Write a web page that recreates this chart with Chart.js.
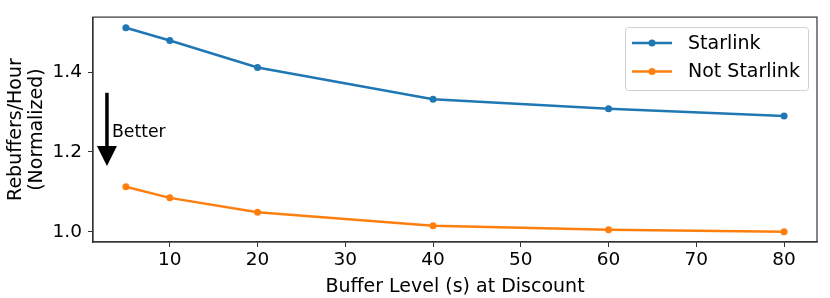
<!DOCTYPE html>
<html>
<head>
<meta charset="utf-8">
<script src="https://cdn.jsdelivr.net/npm/chart.js@4/dist/chart.umd.min.js"></script>
<style>
html,body{margin:0;padding:0;background:#fff;}
#wrap{width:830px;height:298px;}
</style>
</head>
<body>
<div id="wrap"><canvas id="c" width="830" height="298"></canvas></div>
<script>
const bufferLevels = [5, 10, 20, 40, 60, 80];
const starlink = [1.511, 1.479, 1.4115, 1.332, 1.308, 1.290];
const notStarlink = [1.113, 1.085, 1.049, 1.015, 1.005, 1.000];
const xTicks = [10, 20, 30, 40, 50, 60, 70, 80];
const yTicks = [1.0, 1.2, 1.4];
const seriesNames = ['Starlink', 'Not Starlink'];
const xTitle = 'Buffer Level (s) at Discount';
const yTitle = ['Rebuffers/Hour', '(Normalized)'];
const annotationText = 'Better';

const FONT = 'DejaVu Sans';
const colors = ['#1f77b4', '#ff7f0e'];

const framePlugin = {
  id: 'frame',
  afterDraw(chart) {
    const {ctx, chartArea: a, scales} = chart;
    ctx.save();
    ctx.strokeStyle = '#333';
    ctx.lineWidth = 1.2;
    ctx.strokeRect(a.left, a.top, a.right - a.left, a.bottom - a.top);
    // Better arrow
    const x = scales.x.getPixelForValue(2.84);
    const y0 = scales.y.getPixelForValue(1.348);
    const y1 = scales.y.getPixelForValue(1.165);
    ctx.fillStyle = '#000';
    ctx.strokeStyle = '#000';
    ctx.lineWidth = 3.5;
    ctx.beginPath();
    ctx.moveTo(x, y0);
    ctx.lineTo(x, y1 - 18);
    ctx.stroke();
    ctx.beginPath();
    ctx.moveTo(x - 10, y1 - 20);
    ctx.lineTo(x + 10, y1 - 20);
    ctx.lineTo(x, y1);
    ctx.closePath();
    ctx.fill();
    ctx.font = '17.3px "' + FONT + '"';
    ctx.textAlign = 'left';
    ctx.textBaseline = 'alphabetic';
    ctx.fillText(annotationText, x + 5, y0 + 44);
    // Legend
    const lx = 625, ly = 27, lw = 183, lh = 63;
    ctx.fillStyle = 'rgba(255,255,255,0.85)';
    ctx.strokeStyle = '#d0d0d0';
    ctx.lineWidth = 1;
    ctx.beginPath();
    if (ctx.roundRect) ctx.roundRect(lx + 0.5, ly + 0.5, lw, lh, 3); else ctx.rect(lx + 0.5, ly + 0.5, lw, lh);
    ctx.fill();
    ctx.stroke();
    chart.data.datasets.forEach((ds, i) => {
      const yy = 43 + i * 28.5;
      ctx.strokeStyle = ds.borderColor;
      ctx.fillStyle = ds.borderColor;
      ctx.lineWidth = 2.5;
      ctx.beginPath();
      ctx.moveTo(632, yy);
      ctx.lineTo(672, yy);
      ctx.stroke();
      ctx.beginPath();
      ctx.arc(652, yy, 3.5, 0, Math.PI * 2);
      ctx.fill();
      ctx.fillStyle = '#000';
      ctx.font = '19px "' + FONT + '"';
      ctx.textBaseline = 'middle';
      ctx.fillText(ds.label, 688, yy + 1);
    });
    ctx.restore();
  }
};

new Chart(document.getElementById('c'), {
  type: 'line',
  data: {
    datasets: [
      {label: seriesNames[0], data: bufferLevels.map((x, i) => ({x, y: starlink[i]})), borderColor: colors[0], backgroundColor: colors[0]},
      {label: seriesNames[1], data: bufferLevels.map((x, i) => ({x, y: notStarlink[i]})), borderColor: colors[1], backgroundColor: colors[1]}
    ]
  },
  options: {
    responsive: false,
    animation: false,
    devicePixelRatio: 1,
    elements: {
      line: {borderWidth: 2.5, tension: 0},
      point: {radius: 3.5, hoverRadius: 3.5, borderWidth: 0}
    },
    layout: {padding: {left: 0, right: 13, top: 17, bottom: 0}},
    plugins: {legend: {display: false}, tooltip: {enabled: false}},
    scales: {
      x: {
        type: 'linear',
        min: 1.25, max: 83.75,
        afterBuildTicks: s => { s.ticks = xTicks.map(v => ({value: v})); },
        afterFit: s => { s.height = 56; },
        grid: {drawOnChartArea: false, tickLength: 5, color: '#333', tickWidth: 1},
        border: {display: true, color: '#333', width: 1.2},
        ticks: {color: '#000', font: {family: FONT, size: 18.5}, padding: 2, maxRotation: 0},
        title: {display: true, text: xTitle, color: '#000', font: {family: FONT, size: 19}, padding: {top: 0, bottom: 0}}
      },
      y: {
        type: 'linear',
        min: 0.9745, max: 1.5375,
        afterBuildTicks: s => { s.ticks = yTicks.map(v => ({value: v})); },
        afterFit: s => { s.width = 93; },
        grid: {drawOnChartArea: false, tickLength: 5, color: '#333', tickWidth: 1},
        border: {display: true, color: '#333', width: 1.2},
        ticks: {color: '#000', font: {family: FONT, size: 18.5}, padding: 6, callback: v => v.toFixed(1)},
        title: {display: true, text: yTitle, color: '#000', font: {family: FONT, size: 19, lineHeight: 1.1}, padding: {top: 5.5, bottom: 0}}
      }
    }
  },
  plugins: [framePlugin]
});
</script>
</body>
</html>
